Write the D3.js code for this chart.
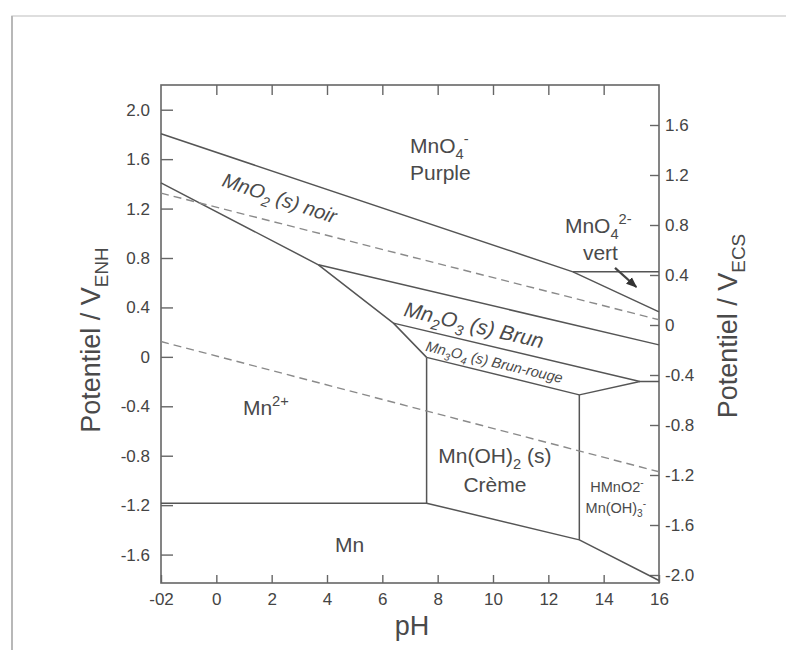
<!DOCTYPE html>
<html>
<head>
<meta charset="utf-8">
<script src="https://cdnjs.cloudflare.com/ajax/libs/d3/7.8.5/d3.min.js"></script>
<style>
  body { margin: 0; background: #fff; }
  svg { display: block; font-family: "Liberation Sans", Arial, sans-serif; }
  .tick text { fill: #444; font-size: 17px; }
  .tick line { stroke: #666; stroke-width: 1.4; }
</style>
</head>
<body>
<svg id="chart" width="786" height="650"></svg>
<script>
// axis ticks
var phTicks = [-2, 0, 2, 4, 6, 8, 10, 12, 14, 16];
var enhTicks = [2.0, 1.6, 1.2, 0.8, 0.4, 0, -0.4, -0.8, -1.2, -1.6];
var ecsTicks = [1.6, 1.2, 0.8, 0.4, 0, -0.4, -0.8, -1.2, -1.6, -2.0];

// boundary lines [pH, E(V ENH)]
var mnO4_MnO2 = [[-2, 1.805], [12.89, 0.688], [16, 0.364]];
var mnO4_MnO42 = [[12.89, 0.688], [16, 0.688]];
var mnO2_Mn2 = [[-2, 1.408], [3.69, 0.745], [6.40, 0.273], [7.60, -0.004]];
var mnO2_Mn2O3 = [[3.69, 0.745], [16, 0.097]];
var mn2O3_Mn3O4 = [[6.40, 0.273], [15.31, -0.200], [16, -0.200]];
var mn3O4_MnOH2 = [[7.60, -0.004], [13.12, -0.3075], [15.31, -0.200]];
var mn2_Mn = [[-2, -1.184], [7.60, -1.184], [13.12, -1.481], [16, -1.81]];
var mn2_MnOH2 = [[7.60, -0.004], [7.60, -1.184]];
var mnOH2_HMnO2 = [[13.12, -0.3075], [13.12, -1.481]];
// water stability (dashed)
var waterO2 = [[-2, 1.325], [16, 0.30]];
var waterH2 = [[-2, 0.124], [16, -0.93]];
// little arrow pointing at the MnO4-/MnO4 2- line
var vertArrow = [[14.41, 0.72], [15.18, 0.565]];

// region labels: text, pH, E, anchor
var regionLabels = [
  ["MnO_{4}^{-}", 7.0, 1.651, "start"],
  ["Purple", 7.0, 1.432, "start"],
  ["MnO_{4}^{2-}", 12.6, 1.003, "start"],
  ["vert", 13.25, 0.785, "start"],
  ["Mn^{2+}", 0.96, -0.469, "start"],
  ["Mn", 4.29, -1.578, "start"],
  ["Mn(OH)_{2} (s)", 10.07, -0.858, "middle"],
  ["Crème", 10.07, -1.092, "middle"]
];
var smallLabels = [
  ["HMnO2^{-}", 14.48, -1.092],
  ["Mn(OH)_{3}^{-}", 14.44, -1.262]
];
// sloped italic labels: text, pH, E, line they follow
var slopedLabels = [
  ["MnO_{2} (s) noir", 0.17, 1.384, mnO4_MnO2, 20],
  ["Mn_{2}O_{3} (s) Brun", 6.75, 0.332, mnO2_Mn2O3, 21],
  ["Mn_{3}O_{4} (s) Brun-rouge", 7.54, 0.049, mn2O3_Mn3O4, 14.5]
];

var svg = d3.select("#chart");
var ink = "#4a4a4a";

// page edge of the scan
svg.append("rect").attr("x", 12).attr("y", 16).attr("width", 800).attr("height", 700)
  .attr("fill", "none").attr("stroke", "#d4d4d4").attr("stroke-width", 1.5);
svg.append("line").attr("x1", 12).attr("x2", 12).attr("y1", 16).attr("y2", 650)
  .attr("stroke", "#b8b8b8").attr("stroke-width", 2);

var x = d3.scaleLinear().domain([-2, 16]).range([161, 659]);
var y = d3.scaleLinear().domain([-1.83, 2.2]).range([583, 85]);
var yEcs = d3.scaleLinear().domain([-2.064, 1.92]).range([583, 85]);

function fmtV(v) { return v === 0 ? "0" : v.toFixed(1); }

var gLeft = svg.append("g").attr("transform", "translate(161,0)")
  .call(d3.axisLeft(y).tickValues(enhTicks).tickFormat(fmtV).tickSizeInner(-12).tickSizeOuter(0).tickPadding(11));
var gRight = svg.append("g").attr("transform", "translate(659,0)")
  .call(d3.axisRight(yEcs).tickValues(ecsTicks).tickFormat(fmtV).tickSizeInner(-9).tickSizeOuter(0).tickPadding(6));
var gBottom = svg.append("g").attr("transform", "translate(0,583)")
  .call(d3.axisBottom(x).tickValues(phTicks).tickFormat(function(d){ return d === -2 ? "-02" : String(d); })
    .tickSizeInner(-8).tickSizeOuter(0).tickPadding(10));
var gTop = svg.append("g").attr("transform", "translate(0,85)")
  .call(d3.axisTop(x).tickValues(phTicks.slice(1, -1)).tickFormat("").tickSizeInner(-10).tickSizeOuter(0));
[gLeft, gRight, gBottom, gTop].forEach(function(g){ g.select(".domain").remove(); });

// frame
svg.append("rect").attr("x", x(-2)).attr("y", y(2.2))
  .attr("width", x(16) - x(-2)).attr("height", y(-1.83) - y(2.2))
  .attr("fill", "none").attr("stroke", "#666").attr("stroke-width", 1.6);

var line = d3.line().x(function(d){ return x(d[0]); }).y(function(d){ return y(d[1]); });

[mnO4_MnO2, mnO4_MnO42, mnO2_Mn2, mnO2_Mn2O3, mn2O3_Mn3O4, mn3O4_MnOH2, mn2_Mn, mn2_MnOH2, mnOH2_HMnO2]
  .forEach(function(pts){
    svg.append("path").attr("d", line(pts)).attr("fill", "none")
      .attr("stroke", "#555").attr("stroke-width", 1.5).attr("stroke-linejoin", "round");
  });
[waterO2, waterH2].forEach(function(pts){
  svg.append("path").attr("d", line(pts)).attr("fill", "none")
    .attr("stroke", "#8a8a8a").attr("stroke-width", 1.4).attr("stroke-dasharray", "8,5");
});

svg.append("defs").append("marker").attr("id", "head")
  .attr("viewBox", "0 0 10 10").attr("refX", 9).attr("refY", 5)
  .attr("markerWidth", 5).attr("markerHeight", 5).attr("orient", "auto")
  .append("path").attr("d", "M0,1 L10,5 L0,9 Z").attr("fill", "#333");
svg.append("path").attr("d", line(vertArrow)).attr("stroke", "#444").attr("stroke-width", 2.2)
  .attr("marker-end", "url(#head)");

// writes "MnO_{4}^{-}" style text into tspans
function richText(sel, str, size) {
  var parts = [], re = /([_^])\{([^}]*)\}/g, last = 0, m;
  while ((m = re.exec(str)) !== null) {
    if (m.index > last) parts.push(["n", str.slice(last, m.index)]);
    parts.push([m[1], m[2]]);
    last = re.lastIndex;
  }
  if (last < str.length) parts.push(["n", str.slice(last)]);
  var shift = 0;
  parts.forEach(function(p){
    var target = p[0] === "_" ? size * 0.3 : p[0] === "^" ? -size * 0.42 : 0;
    sel.append("tspan").attr("dy", target - shift)
      .style("font-size", (p[0] === "n" ? size : size * 0.7) + "px").text(p[1]);
    shift = target;
  });
}

regionLabels.forEach(function(l){
  var t = svg.append("text").attr("x", x(l[1])).attr("y", y(l[2]))
    .attr("text-anchor", l[3]).attr("fill", ink).style("font-size", "21px");
  richText(t, l[0], 21);
});
smallLabels.forEach(function(l){
  var t = svg.append("text").attr("x", x(l[1])).attr("y", y(l[2]))
    .attr("text-anchor", "middle").attr("fill", ink).style("font-size", "14.5px");
  richText(t, l[0], 14.5);
});
slopedLabels.forEach(function(l){
  var a = l[3][0], b = l[3][1];
  var ang = Math.atan2(y(b[1]) - y(a[1]), x(b[0]) - x(a[0])) * 180 / Math.PI;
  var t = svg.append("text")
    .attr("transform", "translate(" + x(l[1]) + "," + y(l[2]) + ") rotate(" + ang + ")")
    .attr("fill", ink).style("font-style", "italic").style("font-size", l[4] + "px");
  richText(t, l[0], l[4]);
});

// axis titles
var tl = svg.append("text").attr("transform", "translate(100,340) rotate(-90)")
  .attr("text-anchor", "middle").attr("fill", ink).style("font-size", "27px");
richText(tl, "Potentiel / V_{ENH}", 27);
var tr = svg.append("text").attr("transform", "translate(737,326) rotate(-90)")
  .attr("text-anchor", "middle").attr("fill", ink).style("font-size", "27px");
richText(tr, "Potentiel / V_{ECS}", 27);
svg.append("text").attr("x", 412).attr("y", 635).attr("text-anchor", "middle")
  .attr("fill", ink).style("font-size", "27px").text("pH");
</script>
</body>
</html>
